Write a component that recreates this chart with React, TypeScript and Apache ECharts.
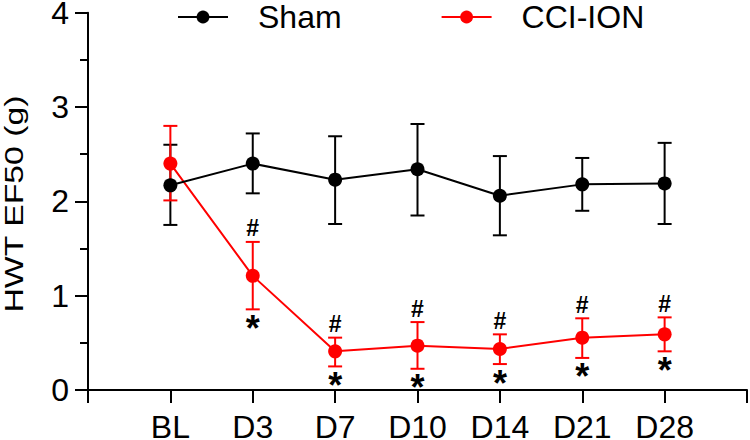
import React, { useEffect, useRef } from 'react';
import * as echarts from 'echarts';

const categories = ['BL', 'D3', 'D7', 'D10', 'D14', 'D21', 'D28'];
const shamMean = [2.17, 2.40, 2.23, 2.34, 2.06, 2.18, 2.19];
const shamHigh = [2.60, 2.72, 2.69, 2.82, 2.48, 2.46, 2.62];
const shamLow = [1.75, 2.085, 1.76, 1.85, 1.64, 1.90, 1.76];
const cciMean = [2.40, 1.21, 0.41, 0.47, 0.435, 0.555, 0.59];
const cciHigh = [2.80, 1.57, 0.555, 0.72, 0.59, 0.76, 0.77];
const cciLow = [2.01, 0.855, 0.25, 0.225, 0.275, 0.34, 0.41];
const hashMarks = ['', '#', '#', '#', '#', '#', '#'];
const starMarks = ['', '*', '*', '*', '*', '*', '*'];
const yTicks = [0, 1, 2, 3, 4];
const seriesNames = ['Sham', 'CCI-ION'];
const yTitle = 'HWT EF50 (g)';

const FONT = 'Liberation Sans';

function errRender(color: string) {
  return (params: any, api: any) => {
    const x = api.value(0);
    const hi = api.coord([x, api.value(1)]);
    const lo = api.coord([x, api.value(2)]);
    const hw = 7;
    const style = { stroke: color, lineWidth: 2 };
    return {
      type: 'group',
      children: [
        { type: 'line', shape: { x1: hi[0], y1: hi[1], x2: lo[0], y2: lo[1] }, style },
        { type: 'line', shape: { x1: hi[0] - hw, y1: hi[1], x2: hi[0] + hw, y2: hi[1] }, style },
        { type: 'line', shape: { x1: lo[0] - hw, y1: lo[1], x2: lo[0] + hw, y2: lo[1] }, style },
      ],
    };
  };
}

function annotRender(params: any, api: any) {
  const i = params.dataIndex;
  const x = api.value(0);
  const hi = api.coord([x, api.value(1)]);
  const lo = api.coord([x, api.value(2)]);
  const children: any[] = [];
  if (hashMarks[i]) {
    children.push({
      type: 'text',
      x: hi[0],
      y: hi[1] - 2,
      style: {
        text: hashMarks[i],
        font: 'bold 23px Liberation Sans',
        fill: '#000',
        align: 'center',
        verticalAlign: 'bottom',
      },
    });
  }
  if (starMarks[i]) {
    children.push({
      type: 'text',
      x: lo[0],
      y: lo[1] + 1,
      style: {
        text: starMarks[i],
        font: 'bold 36px Liberation Sans',
        fill: '#000',
        align: 'center',
        verticalAlign: 'top',
      },
    });
  }
  return { type: 'group', children };
}

export default function App() {
  const ref = useRef<HTMLDivElement>(null);
  useEffect(() => {
    if (!ref.current) return;
    const chart = echarts.init(ref.current, undefined, { renderer: 'svg' });
    const axisLineStyle = { color: '#000', width: 2 };
    chart.setOption({
      animation: false,
      textStyle: { fontFamily: FONT },
      grid: { left: 88, right: 3, top: 12.7, bottom: 50, containLabel: false, outerBoundsMode: 'none' },
      legend: {
        data: seriesNames,
        left: 177,
        top: 1,
        padding: 0,
        itemWidth: 50,
        itemHeight: 16,
        itemGap: 99,
        textStyle: { fontSize: 32, color: '#000', fontFamily: FONT, padding: [0, 0, 0, 25] },
      },
      graphic: [
        {
          type: 'text',
          x: 14,
          y: 204,
          rotation: Math.PI / 2,
          scaleX: 1.3,
          style: {
            text: yTitle,
            font: '26px Liberation Sans',
            fill: '#000',
            align: 'center',
            verticalAlign: 'middle',
          },
        },
      ],
      xAxis: {
        type: 'value',
        min: 0,
        max: categories.length + 1,
        interval: 1,
        axisLine: { show: true, onZero: false, lineStyle: axisLineStyle },
        axisTick: { show: true, length: 13, lineStyle: axisLineStyle },
        axisLabel: {
          formatter: (v: number) => categories[v - 1] ?? '',
          fontSize: 32,
          lineHeight: 20,
          color: '#000',
          margin: 27,
          fontFamily: FONT,
        },
        splitLine: { show: false },
      },
      yAxis: {
        type: 'value',
        min: yTicks[0],
        max: yTicks[yTicks.length - 1],
        interval: 1,
        axisLine: { show: true, lineStyle: axisLineStyle },
        axisTick: { show: true, length: 13, lineStyle: axisLineStyle },
        minorTick: { show: true, splitNumber: 2, length: 8, lineStyle: axisLineStyle },
        axisLabel: { fontSize: 32, lineHeight: 20, color: '#000', margin: 19, fontFamily: FONT },
        splitLine: { show: false },
        minorSplitLine: { show: false },
      },
      series: [
        {
          name: 'Sham SD',
          type: 'custom',
          renderItem: errRender('#000'),
          data: shamHigh.map((h, i) => [i + 1, h, shamLow[i]]),
          encode: { x: 0, y: [1, 2] },
          z: 2,
        },
        {
          name: 'CCI-ION SD',
          type: 'custom',
          renderItem: errRender('#ff0000'),
          data: cciHigh.map((h, i) => [i + 1, h, cciLow[i]]),
          encode: { x: 0, y: [1, 2] },
          z: 2,
        },
        {
          name: seriesNames[1],
          type: 'line',
          data: cciMean.map((v, i) => [i + 1, v]),
          symbol: 'circle',
          symbolSize: 14,
          lineStyle: { color: '#ff0000', width: 2 },
          itemStyle: { color: '#ff0000' },
          z: 3,
        },
        {
          name: seriesNames[0],
          type: 'line',
          data: shamMean.map((v, i) => [i + 1, v]),
          symbol: 'circle',
          symbolSize: 14,
          lineStyle: { color: '#000', width: 2 },
          itemStyle: { color: '#000' },
          z: 4,
        },
        {
          name: 'marks',
          type: 'custom',
          renderItem: annotRender,
          data: cciHigh.map((h, i) => [i + 1, h, cciLow[i]]),
          encode: { x: 0, y: [1, 2] },
          z: 5,
        },
      ],
    });
    return () => chart.dispose();
  }, []);
  return <div ref={ref} style={{ position: 'absolute', left: 0, top: 0, width: 750, height: 440 }} />;
}
